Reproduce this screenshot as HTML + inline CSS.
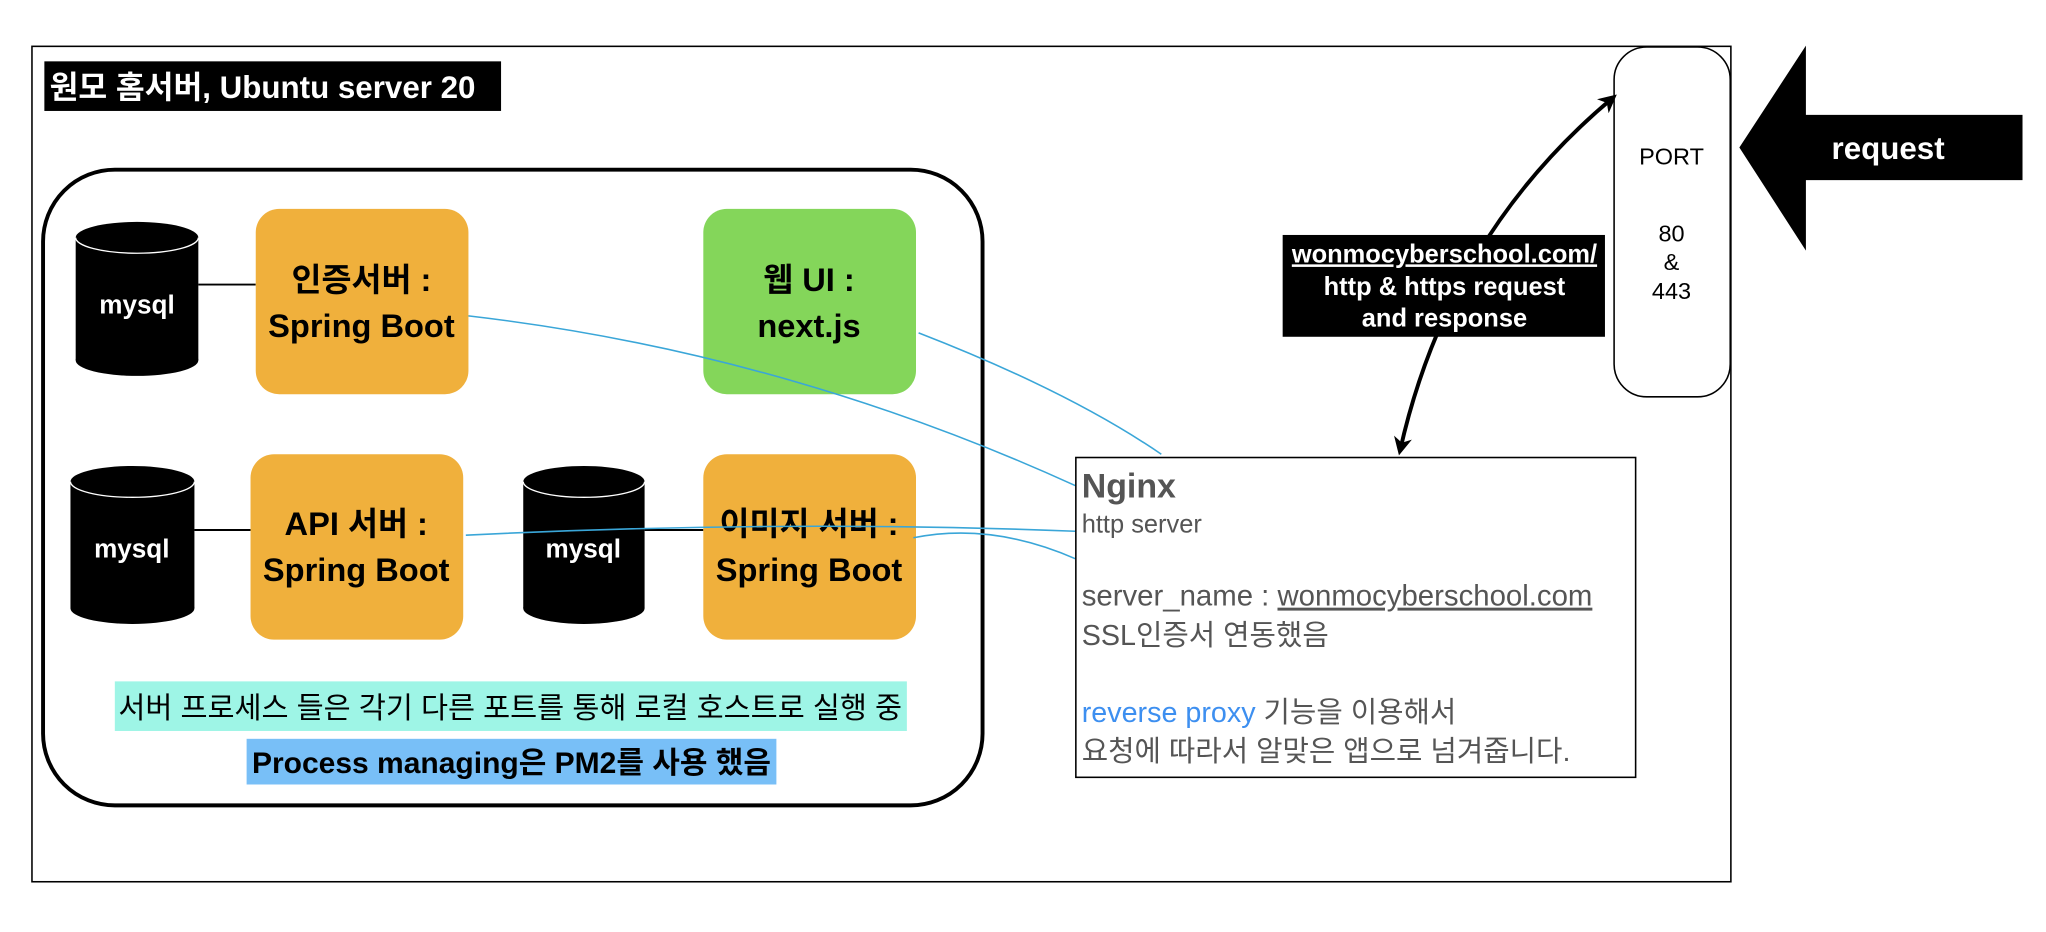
<!DOCTYPE html>
<html><head><meta charset="utf-8">
<style>
html,body{margin:0;padding:0;background:#fff;}
svg{display:block;}
text{font-family:"Liberation Sans","Noto Sans CJK KR",sans-serif;}
</style></head>
<body>
<svg width="2046" height="932" viewBox="0 0 1568 714" preserveAspectRatio="none" xmlns="http://www.w3.org/2000/svg">
<defs>
<marker id="ah" markerWidth="14" markerHeight="14" refX="10" refY="7" orient="auto-start-reverse" markerUnits="userSpaceOnUse">
<path d="M0,0 L14,7 L0,14 L4,7 z" fill="#000"/>
</marker>
</defs>
<rect x="0" y="0" width="1568" height="714" fill="#fff"/>
<rect x="24.5" y="35.5" width="1302" height="640" fill="none" stroke="#000" stroke-width="1.2"/>
<rect x="34" y="47" width="350" height="38" fill="#000"/>
<text x="38" y="75" font-size="24" font-weight="bold" fill="#fff">원모 홈서버, Ubuntu server 20</text>

<rect x="33" y="130" width="720" height="487" rx="55" fill="none" stroke="#000" stroke-width="3"/>

<line x1="152" y1="218" x2="196" y2="218" stroke="#000" stroke-width="1.5"/>
<line x1="149" y1="406" x2="192" y2="406" stroke="#000" stroke-width="1.5"/>
<line x1="494" y1="406" x2="539" y2="406" stroke="#000" stroke-width="1.5"/>

<g fill="#000">
<rect x="58" y="182" width="94" height="94"/><ellipse cx="105" cy="182" rx="47" ry="12"/><ellipse cx="105" cy="276" rx="47" ry="12"/>
<rect x="54" y="369" width="95" height="97"/><ellipse cx="101.5" cy="369" rx="47.5" ry="12"/><ellipse cx="101.5" cy="466" rx="47.5" ry="12"/>
<rect x="401" y="369" width="93" height="97"/><ellipse cx="447.5" cy="369" rx="46.5" ry="12"/><ellipse cx="447.5" cy="466" rx="46.5" ry="12"/>
</g>
<g fill="none" stroke="#fff" stroke-width="1">
<path d="M58,182 A47,12 0 0 0 152,182"/>
<path d="M54,369 A47.5,12 0 0 0 149,369"/>
<path d="M401,369 A46.5,12 0 0 0 494,369"/>
</g>
<text x="105" y="240" font-size="20" font-weight="bold" fill="#fff" text-anchor="middle">mysql</text>
<text x="101" y="427" font-size="20" font-weight="bold" fill="#fff" text-anchor="middle">mysql</text>
<text x="447" y="427" font-size="20" font-weight="bold" fill="#fff" text-anchor="middle">mysql</text>

<rect x="196" y="160" width="163" height="142" rx="18" fill="#f0b03c"/>
<rect x="539" y="160" width="163" height="142" rx="18" fill="#84d65a"/>
<rect x="192" y="348" width="163" height="142" rx="18" fill="#f0b03c"/>
<rect x="539" y="348" width="163" height="142" rx="18" fill="#f0b03c"/>
<g font-size="25" font-weight="bold" fill="#000" text-anchor="middle">
<text x="277" y="223">인증서버 :</text><text x="277" y="258">Spring Boot</text>
<text x="620" y="223">웹 UI :</text><text x="620" y="258">next.js</text>
<text x="273" y="410">API 서버 :</text><text x="273" y="445">Spring Boot</text>
<text x="620" y="410">이미지 서버 :</text><text x="620" y="445">Spring Boot</text>
</g>

<g fill="none" stroke="#3aa6d8" stroke-width="1.2">
<path d="M359,242 Q600,270 824,372"/>
<path d="M704,255 Q820,300 890,348"/>
<path d="M357,410 Q600,398 824,407"/>
<path d="M700,412 Q760,400 824,428"/>
</g>

<rect x="88" y="522" width="607" height="38" fill="#9ef5e6"/>
<text x="391" y="550" font-size="22.5" fill="#000" text-anchor="middle">서버 프로세스 들은 각기 다른 포트를 통해 로컬 호스트로 실행 중</text>
<rect x="189" y="566" width="406" height="35" fill="#78bff7"/>
<text x="392" y="592" font-size="23" font-weight="bold" fill="#000" text-anchor="middle">Process managing은 PM2를 사용 했음</text>

<rect x="824.5" y="350.5" width="429" height="245" fill="#fff" stroke="#000" stroke-width="1.2"/>
<text x="829" y="381" font-size="26" font-weight="bold" fill="#555">Nginx</text>
<text x="829" y="408" font-size="19.5" fill="#555">http server</text>
<text x="829" y="464" font-size="22.5" fill="#555">server_name : <tspan text-decoration="underline">wonmocyberschool.com</tspan></text>
<text x="829" y="494" font-size="22" fill="#555">SSL인증서 연동했음</text>
<text x="829" y="553" font-size="22" fill="#555"><tspan fill="#3d8ff0">reverse proxy</tspan> 기능을 이용해서</text>
<text x="829" y="583" font-size="22" fill="#555">요청에 따라서 알맞은 앱으로 넘겨줍니다.</text>

<rect x="1237" y="36" width="89" height="268" rx="25" fill="#fff" stroke="#000" stroke-width="1.2"/>
<g font-size="18" fill="#000" text-anchor="middle">
<text x="1281" y="126">PORT</text>
<text x="1281" y="185">80</text>
<text x="1281" y="207">&amp;</text>
<text x="1281" y="229">443</text>
</g>

<polygon points="1333,113 1384,35 1384,88 1550,88 1550,138 1384,138 1384,192" fill="#000"/>
<text x="1447" y="122" font-size="24" font-weight="bold" fill="#fff" text-anchor="middle">request</text>

<path d="M1073,345 Q1110,180 1236,75" fill="none" stroke="#000" stroke-width="3" marker-start="url(#ah)" marker-end="url(#ah)"/>

<rect x="983" y="180" width="247" height="78" fill="#000"/>
<g font-size="19.5" font-weight="bold" fill="#fff" text-anchor="middle">
<text x="1107" y="201" text-decoration="underline">wonmocyberschool.com/</text>
<text x="1107" y="226">http &amp; https request</text>
<text x="1107" y="250">and response</text>
</g>
</svg>
</body></html>
